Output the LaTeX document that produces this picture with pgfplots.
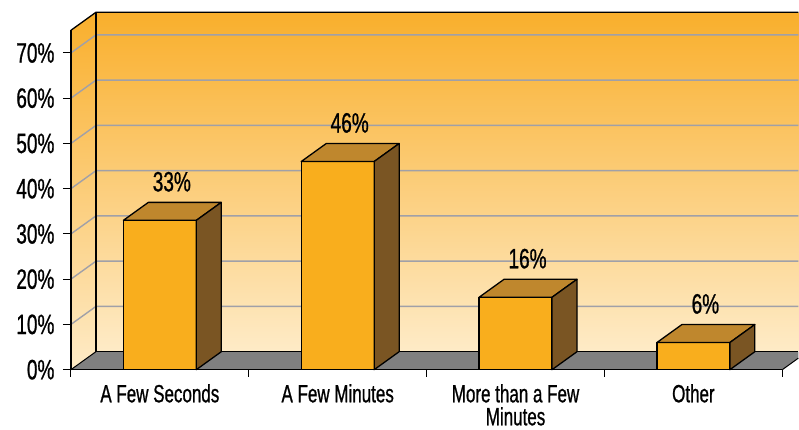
\documentclass[border=0pt]{standalone}
\usepackage{fontspec}
\setmainfont{Liberation Sans}[FakeStretch=0.68, FakeBold=0.8]
\usepackage{pgfplots}
\pgfplotsset{compat=1.18}
\usepackage{pgfplotstable}

\definecolor{walltop}{HTML}{F9AF2C}
\definecolor{wallbot}{HTML}{FEEBC7}
\definecolor{floorgray}{HTML}{808080}
\definecolor{barfront}{HTML}{F9AE1D}
\definecolor{bartop}{HTML}{BF872D}
\definecolor{barside}{HTML}{7A5523}
\definecolor{gridcol}{HTML}{A0A0A8}

% depth of the 3D box in data units (25pt right, 18pt up)
\def\dx{0.1404}
\def\dy{3.974}
% right edge of the visible region in data units
\def\xr{4.0899}

\pgfplotstableread{
pos  value
0.5  33
1.5  46
2.5  16
3.5  6
}\responses

% top and side faces of a bar, drawn from its top-front centre
\pgfdeclareplotmark{barcap}{%
  \pgfmathsetmacro\barh{\barval*4.529}%
  \pgfpathmoveto{\pgfpoint{-36.5pt}{0pt}}%
  \pgfpathlineto{\pgfpoint{36.5pt}{0pt}}%
  \pgfpathlineto{\pgfpoint{61.5pt}{18pt}}%
  \pgfpathlineto{\pgfpoint{-11.5pt}{18pt}}%
  \pgfpathclose
  \pgfsetfillcolor{bartop}%
  \pgfusepath{fill,stroke}%
  \pgfpathmoveto{\pgfpoint{36.5pt}{0pt}}%
  \pgfpathlineto{\pgfpoint{61.5pt}{18pt}}%
  \pgfpathlineto{\pgfpoint{61.5pt}{18pt-\barh pt}}%
  \pgfpathlineto{\pgfpoint{36.5pt}{-\barh pt}}%
  \pgfpathclose
  \pgfsetfillcolor{barside}%
  \pgfusepath{fill,stroke}%
}

\begin{document}
\begin{tikzpicture}
\begin{axis}[
  x=178pt, y=4.529pt,
  xmin=0, xmax=4, ymin=0, ymax=75,
  anchor=origin, at={(0pt,0pt)},
  clip=false, axis on top,
  axis x line*=bottom, axis y line*=left,
  axis line style={black, line width=1.3pt},
  tick align=outside,
  major tick length=8pt, minor tick length=7pt,
  ytick={0,10,...,70},
  yticklabels={0\%,10\%,20\%,30\%,40\%,50\%,60\%,70\%},
  y tick style={black, line width=1pt},
  yticklabel style={font=\fontsize{28}{30}\selectfont, xshift=-5pt},
  xtick={0.5,1.5,2.5,3.5},
  xticklabels={A Few Seconds, A Few Minutes, {More than a Few\\Minutes}, Other},
  major x tick style={draw=none},
  minor xtick={0,1,2,3,4},
  minor x tick style={black, line width=1pt},
  xticklabel style={font=\fontsize{25}{23}\selectfont, align=center, yshift=-3pt},
  /pgf/number format/assume math mode=true,
]
  % back wall
  \fill[top color=walltop, bottom color=wallbot]
    (axis cs:\dx,\dy) rectangle (axis cs:\xr,{75+\dy});
  % left wall
  \fill[top color=walltop, bottom color=wallbot]
    (axis cs:0,0) -- (axis cs:0,75) -- (axis cs:\dx,{75+\dy}) -- (axis cs:\dx,\dy) -- cycle;
  % floor
  \fill[floorgray]
    (axis cs:0,0) -- (axis cs:4,0) -- (axis cs:\xr,2.543) -- (axis cs:\xr,\dy) -- (axis cs:\dx,\dy) -- cycle;
  % gridlines on both walls
  \pgfplotsinvokeforeach{10,20,...,70}{
    \draw[gridcol, line width=1.4pt]
      (axis cs:0,#1) -- (axis cs:\dx,{#1+\dy}) -- (axis cs:\xr,{#1+\dy});
  }
  % wall and floor edges
  \draw[black, line width=1.3pt, line join=round]
    (axis cs:0,75) -- (axis cs:\dx,{75+\dy}) -- (axis cs:\xr,{75+\dy});
  \draw[black, line width=1.3pt]
    (axis cs:\dx,{75+\dy}) -- (axis cs:\dx,\dy) -- (axis cs:\xr,\dy);
  \draw[black, line width=1pt]
    (axis cs:0,0) -- (axis cs:\dx,\dy);
  \draw[black, line width=1pt]
    (axis cs:4,0) -- (axis cs:\xr,2.543);

  % bar fronts
  \addplot[ybar, bar width=73pt, bar shift=0pt, fill=barfront,
           draw=black, line width=1.3pt]
    table[x=pos, y=value] {\responses};
  % bar tops and sides with value labels
  \addplot[only marks, mark=barcap, draw=black, line width=1.3pt,
           line join=round,
           visualization depends on={rawy \as \barval},
           point meta=rawy,
           nodes near coords={\pgfmathprintnumber{\pgfplotspointmeta}\%},
           every node near coord/.append style={
             font=\fontsize{28}{30}\selectfont, black,
             anchor=base, xshift=12pt, yshift=29pt}]
    table[x=pos, y=value] {\responses};
\end{axis}
\path (-71pt,-60pt) rectangle (728pt,370pt);
\end{tikzpicture}
\end{document}
